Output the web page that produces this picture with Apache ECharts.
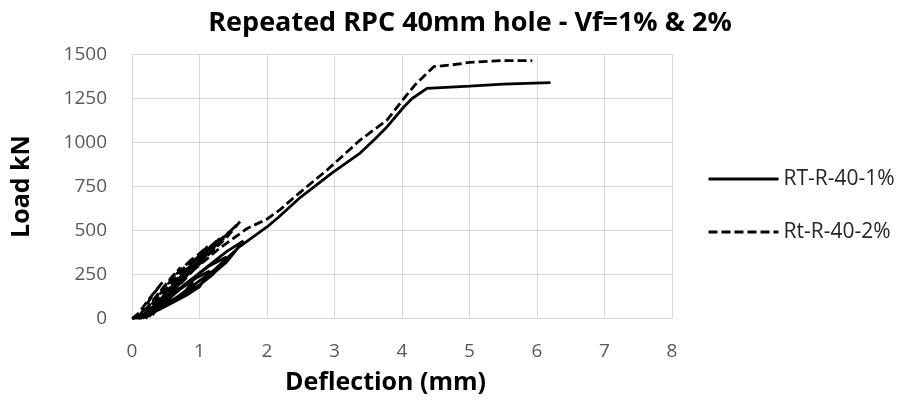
<!DOCTYPE html>
<html>
<head>
<meta charset="utf-8">
<script src="https://cdn.jsdelivr.net/npm/echarts@6/dist/echarts.min.js"></script>
<style>html,body{margin:0;padding:0;background:#fff;}#c{width:905px;height:402px;}</style>
</head>
<body>
<div id="c"></div>
<script>
const xTicks = [0,1,2,3,4,5,6,7,8];
const yTicks = [0,250,500,750,1000,1250,1500];
const seriesNames = ['RT-R-40-1%', 'Rt-R-40-2%'];
const s1 = [
  [0,0],[0.1,5],[0.3,40],[0.5,90],[0.6,130],
  [0.45,100],[0.3,60],[0.15,15],[0.08,0],
  [0.3,35],[0.6,100],[0.8,160],[0.9,210],
  [0.7,170],[0.45,100],[0.25,40],[0.1,0],
  [0.4,50],[0.8,130],[1.0,180],[1.15,270],
  [0.95,230],[0.65,150],[0.35,60],[0.12,0],
  [0.5,70],[0.9,160],[1.2,250],[1.4,350],
  [1.15,300],[0.8,200],[0.45,90],[0.15,5],
  [0.6,100],[1.0,190],[1.4,320],[1.65,440],
  [1.4,380],[1.0,260],[0.6,130],[0.2,10],
  [0.7,130],[1.2,270],[1.6,410],[2.0,520],[2.17,575],[2.5,690],
  [2.96,826],[3.38,940],[3.6,1020],[3.78,1090],[4.03,1203],[4.15,1250],[4.37,1308],
  [5.0,1320],[5.5,1332],[6.2,1340]
];
const s2 = [
  [0,0],[0.1,30],[0.25,110],[0.45,205],
  [0.3,130],[0.12,20],[0.06,0],
  [0.2,50],[0.45,170],[0.6,240],[0.72,290],
  [0.5,190],[0.25,70],[0.1,0],
  [0.3,70],[0.6,200],[0.8,290],[0.92,350],
  [0.65,250],[0.35,110],[0.13,0],
  [0.4,100],[0.75,250],[1.0,360],[1.12,410],
  [0.8,300],[0.45,140],[0.16,0],
  [0.5,130],[0.9,290],[1.15,400],[1.3,455],
  [0.95,340],[0.55,170],[0.2,0],
  [0.6,160],[1.0,320],[1.3,430],[1.45,495],
  [1.1,380],[0.7,210],[0.25,10],
  [0.7,190],[1.1,350],[1.4,460],[1.6,550],
  [1.2,400],[0.8,240],[0.3,20],
  [0.8,240],[1.3,400],[1.7,510],[2.0,565],[2.2,620],[2.39,685],[2.89,844],[3.38,1014],
  [3.78,1128],[4.03,1251],[4.2,1330],[4.47,1431],[4.72,1440],[5.0,1455],[5.46,1465],[5.93,1465]
];

const chart = echarts.init(document.getElementById('c'));
const font = '"Open Sans", "Noto Sans", sans-serif';
const legendText = {fontFamily: font, fontSize: 21, color: '#262626', lineHeight: 22};
const legendBase = {orient: 'vertical', left: 702, itemWidth: 70, itemHeight: 14,
  itemStyle: {opacity: 0}, lineStyle: {width: 3}, textStyle: legendText};
chart.setOption({
  animation: false,
  backgroundColor: '#fff',
  title: {
    text: 'Repeated RPC 40mm hole - Vf=1% & 2%',
    left: 465, top: 5, textAlign: 'center',
    textStyle: {fontFamily: font, fontSize: 27, fontWeight: 'bold', color: '#000'}
  },
  grid: {left: 132, right: 233, top: 54.5, bottom: 83.5, containLabel: false},
  legend: [
    Object.assign({}, legendBase, {top: 163, data: [seriesNames[0]]}),
    Object.assign({}, legendBase, {top: 216, data: [seriesNames[1]]})
  ],
  xAxis: {
    type: 'value', min: 0, max: 8, interval: 1,
    name: 'Deflection (mm)', nameLocation: 'middle', nameGap: 52,
    nameTextStyle: {fontFamily: font, fontSize: 25, fontWeight: 'bold', color: '#000', padding: [0, 33, 0, 0]},
    axisLine: {show: true, lineStyle: {color: '#d9d9d9', width: 1}},
    axisTick: {show: false},
    axisLabel: {fontFamily: font, fontSize: 19, color: '#595959', margin: 24,
      formatter: v => xTicks.includes(v) ? String(v) : ''},
    splitLine: {show: true, lineStyle: {color: '#d9d9d9', width: 1}}
  },
  yAxis: {
    type: 'value', min: 0, max: 1500, interval: 250,
    name: 'Load kN', nameLocation: 'middle', nameGap: 98, nameRotate: 90,
    nameTextStyle: {fontFamily: font, fontSize: 25, fontWeight: 'bold', color: '#000'},
    axisLine: {show: false},
    axisTick: {show: false},
    axisLabel: {fontFamily: font, fontSize: 19, color: '#595959', margin: 25,
      formatter: v => yTicks.includes(v) ? String(v) : ''},
    splitLine: {show: true, lineStyle: {color: '#d9d9d9', width: 1}}
  },
  series: [
    {name: seriesNames[0], type: 'line', data: s1, showSymbol: false, symbol: 'none',
      lineStyle: {color: '#000', width: 2.8, type: 'solid'}, itemStyle: {color: '#000'}},
    {name: seriesNames[1], type: 'line', data: s2, showSymbol: false, symbol: 'none',
      lineStyle: {color: '#000', width: 2.8, type: [9, 4]}, itemStyle: {color: '#000'}}
  ]
});
</script>
</body>
</html>
